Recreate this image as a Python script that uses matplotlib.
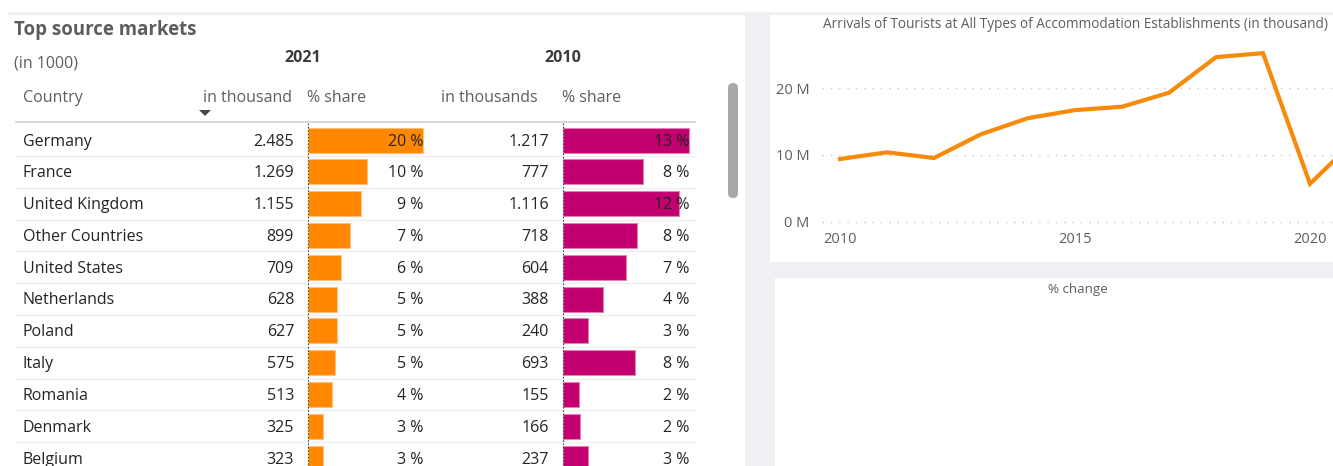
import numpy as np
import matplotlib
matplotlib.use("Agg")
import matplotlib.pyplot as plt
from matplotlib.patches import Rectangle, FancyBboxPatch, Polygon

plt.rcParams['font.family'] = ['Open Sans', 'DejaVu Sans']

# top source markets table
countries = ['Germany', 'France', 'United Kingdom', 'Other Countries', 'United States',
             'Netherlands', 'Poland', 'Italy', 'Romania', 'Denmark', 'Belgium']
thousand_2021 = [2485, 1269, 1155, 899, 709, 628, 627, 575, 513, 325, 323]
thousand_2010 = [1217, 777, 1116, 718, 604, 388, 240, 693, 155, 166, 237]
total_2021 = 12500
total_2010 = 9200

# arrivals line chart (in thousand)
years = [2010, 2011, 2012, 2013, 2014, 2015, 2016, 2017, 2018, 2019, 2020, 2021]
arrivals = [9400, 10400, 9550, 13100, 15500, 16700, 17200, 19300, 24600, 25200, 5700, 12500]

W, H = 1333, 466
BG = '#eff0f4'
ORANGE = '#ff8800'
PINK = '#c3006f'
TXT = '#252423'
GREY = '#605e5c'
FS = 11.5

fig = plt.figure(figsize=(W / 100, H / 100), dpi=100, facecolor=BG)
bg = fig.add_axes([0, 0, 1, 1])
bg.set_xlim(0, W)
bg.set_ylim(H, 0)
bg.axis('off')

# panels
bg.add_patch(Rectangle((0, 0), W, 12, color='white', lw=0))
bg.add_patch(Rectangle((0, 12), 8, H, color='white', lw=0))
bg.add_patch(Rectangle((8, 15), 737, H, color='white', lw=0))
bg.add_patch(Rectangle((770, 15), W - 770, 247, color='white', lw=0))
bg.add_patch(Rectangle((775, 278), W - 775, H, color='white', lw=0))

# table headings
bg.text(14, 30, 'Top source markets', fontsize=13.4, fontweight='bold', color='#5f5d5b',
        va='center')
bg.text(14, 64, '(in 1000)', fontsize=FS, color=GREY, va='center')
bg.text(303, 58, '2021', fontsize=FS, fontweight='bold', color='#3b3a39', ha='center', va='center')
bg.text(563, 58, '2010', fontsize=FS, fontweight='bold', color='#3b3a39', ha='center', va='center')
for x, lab, ha in [(23, 'Country', 'left'), (292, 'in thousand', 'right'),
                   (307, '% share', 'left'), (538, 'in thousands', 'right'),
                   (562, '% share', 'left')]:
    bg.text(x, 98, lab, fontsize=FS, color=GREY, ha=ha, va='center')
bg.add_patch(Polygon([[199, 110], [211, 110], [205, 116]], closed=True, color='#4a4846', lw=0))
bg.plot([16, 695], [122, 122], color='#d2d0ce', lw=1.2)

# rows
row_h = 31.8
px_2021 = 115 / (thousand_2021[0] / total_2021 * 100)
px_2010 = 126 / (thousand_2010[0] / total_2010 * 100)
for i, name in enumerate(countries):
    yc = 140 + i * row_h
    ty = yc + 1.5
    s21 = thousand_2021[i] / total_2021 * 100
    s10 = thousand_2010[i] / total_2010 * 100
    bg.add_patch(Rectangle((308, yc - 12.5), s21 * px_2021, 25, facecolor=ORANGE,
                           edgecolor='#ffc080', lw=0.8))
    bg.add_patch(Rectangle((563, yc - 12.5), s10 * px_2010, 25, facecolor=PINK,
                           edgecolor='#e080b4', lw=0.8))
    bg.text(23, ty, name, fontsize=FS, color=TXT, va='center')
    bg.text(294, ty, f'{thousand_2021[i]:,}'.replace(',', '.'), fontsize=FS, color=TXT,
            ha='right', va='center')
    bg.text(423, ty, f'{round(s21)} %', fontsize=FS, color=TXT, ha='right', va='center')
    bg.text(549, ty, f'{thousand_2010[i]:,}'.replace(',', '.'), fontsize=FS, color=TXT,
            ha='right', va='center')
    bg.text(689, ty, f'{round(s10)} %', fontsize=FS, color=TXT, ha='right', va='center')
    bg.plot([16, 695], [yc + row_h / 2, yc + row_h / 2], color='#eeeeee', lw=1)

for x in (308, 563):
    bg.plot([x, x], [123, H], color='#444444', lw=0.8, ls=(0, (1.5, 1.5)))

# scrollbar
bg.add_patch(FancyBboxPatch((728, 83), 10, 115, boxstyle='round,pad=0,rounding_size=5',
                            color='#aaa8a6', lw=0))

# line chart
bg.text(823, 25, 'Arrivals of Tourists at All Types of Accommodation Establishments (in thousand)',
        fontsize=9.8, color=GREY, va='center')
bg.text(1048, 289, '% change', fontsize=9.6, color=GREY, va='center')

ax_l, ax_r, ax_t, ax_b = 822, 1333, 40, 222
ax = fig.add_axes([ax_l / W, (H - ax_b) / H, (ax_r - ax_l) / W, (ax_b - ax_t) / H])
ax.patch.set_alpha(0)
ppy = 47
ax.set_xlim(2010 - (840 - ax_l) / ppy, 2010 + (ax_r - 840) / ppy)
ax.set_ylim(0, (ax_b - ax_t) / 6.7 * 1000)
ax.plot(years, arrivals, color='#f68b0b', lw=3, solid_joinstyle='miter', zorder=3)
ax.set_yticks([0, 10000, 20000])
ax.set_yticklabels(['0 M', '10 M', '20 M'])
ax.set_xticks([2010, 2015, 2020])
for s in ax.spines.values():
    s.set_visible(False)
ax.tick_params(length=0, labelsize=10.5, labelcolor=GREY)
ax.tick_params(axis='y', pad=9)
ax.tick_params(axis='x', pad=7)
for v in (0, 10000, 20000):
    ax.axhline(v, color='#c8c6c4', lw=1, ls=(0, (1, 5)), clip_on=False, zorder=1)

fig.savefig('out.png', dpi=100, facecolor=BG)
